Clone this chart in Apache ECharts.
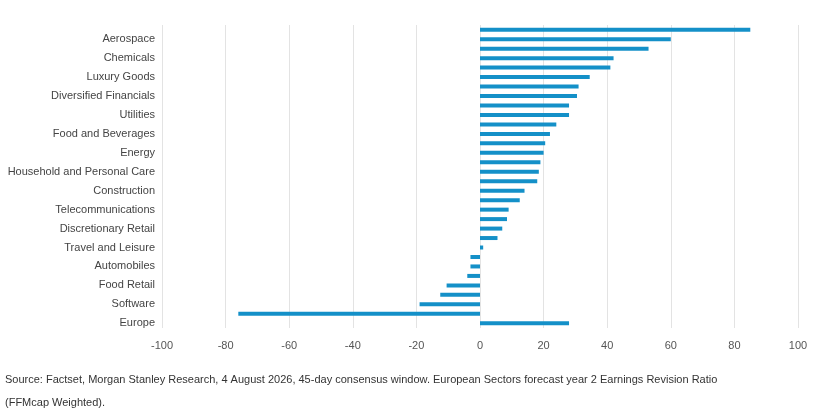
<!DOCTYPE html>
<html>
<head>
<meta charset="utf-8">
<script src="https://cdn.jsdelivr.net/npm/echarts@6/dist/echarts.min.js"></script>
<style>html,body{margin:0;padding:0;background:#fff}#main{width:833px;height:420px}</style>
</head>
<body>
<div id="main"></div>
<script>
// sectors top to bottom; only every second one is labelled in the source
var categories = [
  "Defence", "Aerospace", "Banks", "Chemicals", "Insurance", "Luxury Goods",
  "Capital Goods", "Diversified Financials", "Healthcare", "Utilities",
  "Media", "Food and Beverages", "Real Estate", "Energy", "Transport",
  "Household and Personal Care", "Semiconductors", "Construction",
  "Business Services", "Telecommunications", "Materials", "Discretionary Retail",
  "Pharmaceuticals", "Travel and Leisure", "Mining", "Automobiles",
  "Tobacco", "Food Retail", "Hardware", "Software", "Renewables", "Europe"
];
var revisionRatio = [
  85, 60, 53, 42, 41, 34.5, 31, 30.5, 28, 28,
  24, 22, 20.5, 20, 19, 18.5, 18, 14, 12.5, 9,
  8.5, 7, 5.5, 1, -3, -3, -4, -10.5, -12.5, -19,
  -76, 28
];
var xTicks = { min: -100, max: 100, interval: 20 };

var myChart = echarts.init(document.getElementById("main"));
var option = {
  animation: false,
  grid: { left: 162, right: 35, top: 25, bottom: 92, containLabel: false, outerBoundsMode: "none" },
  xAxis: {
    type: "value",
    min: xTicks.min,
    max: xTicks.max,
    interval: xTicks.interval,
    axisLabel: { color: "#555", fontSize: 11, fontFamily: "Liberation Sans", margin: 12 },
    axisLine: { show: false },
    axisTick: { show: false },
    splitLine: { lineStyle: { color: "#e3e3e3" } }
  },
  yAxis: {
    type: "category",
    inverse: true,
    data: categories,
    axisLine: { show: false, onZero: false },
    axisTick: { show: false },
    axisLabel: {
      interval: function (index) { return index % 2 === 1; },
      color: "#444",
      fontSize: 11,
      fontFamily: "Liberation Sans",
      margin: 7
    }
  },
  series: [
    {
      type: "bar",
      data: revisionRatio,
      barWidth: 4,
      itemStyle: { color: "#1490c8" }
    }
  ],
  graphic: [
    {
      type: "text", left: 5, top: 374,
      style: { text: "Source: Factset, Morgan Stanley Research, 4 August 2026, 45-day consensus window. European Sectors forecast year 2 Earnings Revision Ratio", fill: "#333", font: "11px Liberation Sans" }
    },
    {
      type: "text", left: 5, top: 397,
      style: { text: "(FFMcap Weighted).", fill: "#333", font: "11px Liberation Sans" }
    }
  ]
};
myChart.setOption(option);
</script>
</body>
</html>
